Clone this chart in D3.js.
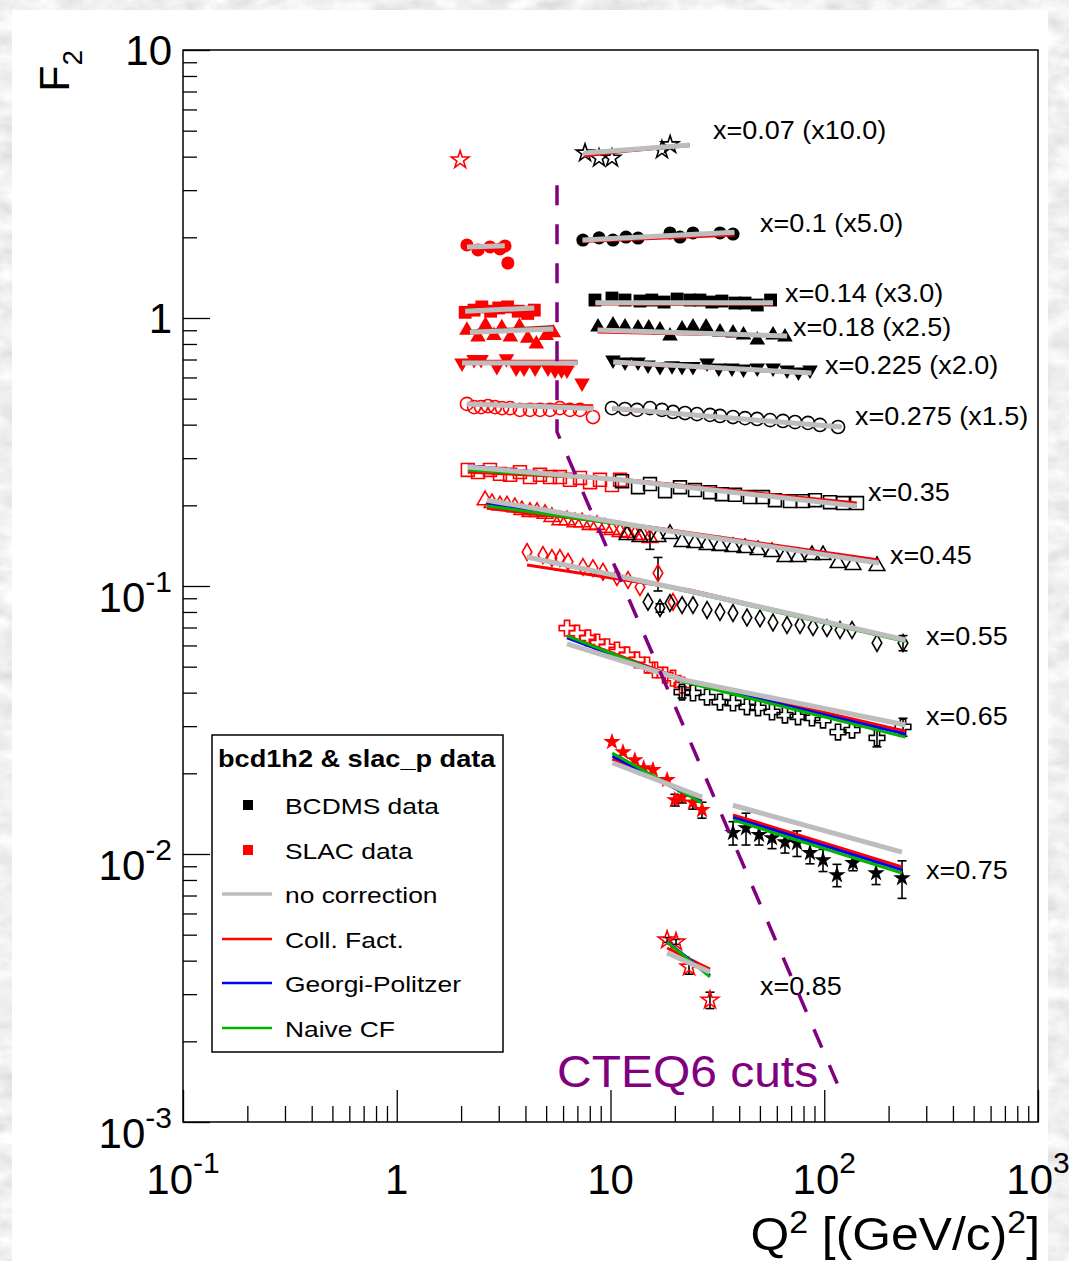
<!DOCTYPE html>
<html><head><meta charset="utf-8">
<script src="https://cdn.jsdelivr.net/npm/d3@7"></script>
<style>
html,body{margin:0;padding:0;background:#fff;}
svg{display:block;font-family:"Liberation Sans",Arial,Helvetica,sans-serif;}
</style></head><body>
<svg id="c" width="1069" height="1261"></svg>
<script>
// ---------------- DATA ----------------
const binLabel = ["x=0.07 (x10.0)","x=0.1 (x5.0)","x=0.14 (x3.0)","x=0.18 (x2.5)","x=0.225 (x2.0)","x=0.275 (x1.5)","x=0.35","x=0.45","x=0.55","x=0.65","x=0.75","x=0.85"];
const labelQ2 = [30.2, 50.0, 65.5, 71.4, 100.8, 139.3, 160.2, 203.1, 299.3, 299.3, 299.3, 50.0];
const labelF2 = [5.03, 2.26, 1.24, 0.926, 0.668, 0.431, 0.2242, 0.1305, 0.0651, 0.0327, 0.00872, 0.00322];

const slacQ2 = [
 [1.98],
 [2.13, 2.40, 2.73, 3.04, 3.21, 3.31],
 [2.09, 2.3, 2.5, 2.75, 3.0, 3.3, 3.7, 4.1, 4.4],
 [2.13, 2.4, 2.6, 2.85, 3.1, 3.4, 3.75, 4.1, 4.5, 5.0, 5.4],
 [2.02, 2.30, 2.48, 2.94, 3.26, 3.62, 3.94, 4.44, 5.1, 5.5, 5.9, 6.26, 7.36],
 [2.13, 2.30, 2.48, 2.67, 2.88, 3.11, 3.39, 3.77, 4.20, 4.68, 5.21, 5.80, 6.46, 7.20, 8.28],
 [2.15, 2.40, 2.73, 3.04, 3.39, 3.77, 4.20, 4.68, 5.21, 5.80, 6.46, 7.20, 8.02, 8.93, 10.16, 11.08],
 [2.59, 2.79, 3.04, 3.28, 3.57, 3.85, 4.20, 4.53, 4.94, 5.32, 5.80, 6.26, 6.82, 7.36, 8.02, 8.65, 9.42, 10.16, 11.08, 11.95, 13.02, 14.19, 15.3],
 [4.07, 4.83, 5.32, 5.80, 6.33, 7.43, 8.28, 9.22, 10.72, 12.08, 13.74, 16.68, 19.61],
 [6.26, 6.97, 7.85, 8.65, 9.63, 10.72, 11.95, 13.30, 14.82, 16.15, 18.0, 19.61, 21.61],
 [10.16, 11.44, 13.0, 14.3, 15.8, 18.4, 20.0, 21.6, 24.3, 26.8],
 [18.4, 20.25, 23.3, 29.2]
];
const slacF2 = [
 [3.89],
 [1.873, 1.794, 1.841, 1.810, 1.857, 1.604],
 [1.05, 1.07, 1.10, 1.06, 1.09, 1.10, 1.06, 1.04, 1.07],
 [0.90, 0.85, 0.94, 0.86, 0.92, 0.85, 0.93, 0.84, 0.80, 0.86, 0.88],
 [0.679, 0.700, 0.700, 0.659, 0.705, 0.651, 0.651, 0.651, 0.651, 0.640, 0.640, 0.640, 0.572],
 [0.478, 0.465, 0.465, 0.469, 0.465, 0.461, 0.461, 0.454, 0.454, 0.454, 0.454, 0.461, 0.454, 0.454, 0.427],
 [0.271, 0.266, 0.271, 0.262, 0.260, 0.266, 0.255, 0.260, 0.255, 0.255, 0.249, 0.253, 0.244, 0.249, 0.238, 0.249],
 [0.209, 0.204, 0.200, 0.200, 0.197, 0.192, 0.189, 0.189, 0.186, 0.181, 0.176, 0.176, 0.173, 0.173, 0.169, 0.169, 0.165, 0.162, 0.159, 0.158, 0.155, 0.155, 0.151],
 [0.1339, 0.1305, 0.1272, 0.1272, 0.1231, 0.1178, 0.1166, 0.1130, 0.1080, 0.1053, 0.0990, 0.1118, 0.0872],
 [0.0696, 0.0667, 0.0640, 0.0618, 0.0593, 0.0577, 0.0553, 0.0530, 0.0507, 0.0486, 0.0465, 0.0453, 0.0427],
 [0.0262, 0.0240, 0.0224, 0.0209, 0.0206, 0.0189, 0.0159, 0.0163, 0.0156, 0.0146],
 [0.00478, 0.00470, 0.00379, 0.00285]
];
const slacErr = [
 [], [], [], [], [], [], [],
 [0,0,0,0,0,0,0,0,0,0,0,0,0,0,0,0,0,0,0,0,0,0,0.014],
 [0,0,0,0,0,0,0,0,0,0,0,0.016,0],
 [],
 [0,0,0,0,0,0,0.0008,0.0008,0.0009,0.0010],
 [0.0001,0.0001,0.00023,0.0002]
];

const bcdmsQ2 = [
 [7.6, 8.84, 10.16, 17.4, 19.0],
 [7.43, 8.84, 10.27, 11.82, 13.45, 18.98, 21.14, 24.32, 32.53, 37.42],
 [8.46, 10.16, 11.69, 13.74, 15.6, 17.8, 20.5, 23.55, 26.2, 29.8, 33.2, 38.2, 42.6, 48.6, 56.1],
 [8.74, 10.27, 11.69, 13.45, 15.1, 17.04, 18.98, 21.61, 24.32, 28.0, 32.53, 37.42, 41.9, 48.6, 57.6, 65.5],
 [10.27, 11.69, 13.45, 14.98, 17.04, 19.4, 21.6, 24.3, 28.3, 32.1, 37.0, 41.9, 48.6, 57.6, 67.0, 75.7, 85.8],
 [10.16, 11.69, 13.30, 15.30, 17.41, 19.61, 22.32, 25.39, 29.22, 32.53, 37.42, 42.6, 48.5, 55.8, 64.1, 73.0, 83.9, 95.5, 116.0],
 [11.32, 13.45, 15.30, 17.99, 21.14, 24.85, 29.22, 33.2, 38.24, 44.9, 51.7, 58.8, 69.15, 79.5, 90.5, 106.4, 122.4, 142.3],
 [11.95, 13.74, 16.68, 18.98, 21.61, 24.85, 28.3, 32.53, 37.42, 42.6, 49.0, 56.97, 65.5, 75.4, 87.6, 98.7, 116.0, 136.3, 176.5],
 [14.98, 17.04, 18.98, 21.61, 24.32, 28.3, 32.53, 37.42, 43.5, 50.05, 57.58, 66.95, 77.0, 88.6, 103.0, 118.5, 134.9, 176.5, 233.6],
 [21.61, 24.32, 28.3, 32.53, 37.42, 43.5, 49.0, 56.97, 65.5, 75.4, 87.6, 98.7, 116.0, 134.9, 176.5, 233.6],
 [37.42, 43.05, 49.53, 56.97, 65.53, 74.58, 85.76, 98.67, 114.7, 136.3, 174.7, 231.1],
 []
];
const bcdmsF2 = [
 [4.13, 3.95, 3.95, 4.24, 4.43],
 [1.954, 1.990, 1.954, 2.005, 1.988, 2.076, 2.005, 2.076, 2.076, 2.057],
 [1.167, 1.187, 1.167, 1.157, 1.167, 1.147, 1.177, 1.167, 1.167, 1.147, 1.157, 1.137, 1.137, 1.118, 1.167],
 [0.926, 0.942, 0.926, 0.918, 0.918, 0.902, 0.857, 0.910, 0.926, 0.926, 0.887, 0.879, 0.864, 0.828, 0.864, 0.849],
 [0.697, 0.685, 0.685, 0.668, 0.659, 0.663, 0.659, 0.659, 0.679, 0.651, 0.651, 0.645, 0.651, 0.651, 0.640, 0.629, 0.640],
 [0.461, 0.4575, 0.454, 0.461, 0.454, 0.446, 0.442, 0.438, 0.435, 0.431, 0.427, 0.423, 0.420, 0.416, 0.413, 0.409, 0.406, 0.399, 0.392],
 [0.246, 0.2336, 0.2402, 0.2258, 0.2336, 0.228, 0.2238, 0.220, 0.219, 0.2147, 0.2147, 0.209, 0.2073, 0.2073, 0.209, 0.2055, 0.204, 0.204],
 [0.155, 0.1524, 0.1524, 0.1564, 0.146, 0.1447, 0.1422, 0.1411, 0.1398, 0.1386, 0.1362, 0.1339, 0.1283, 0.1283, 0.1305, 0.1305, 0.1218, 0.1198, 0.1188],
 [0.0872, 0.0828, 0.0864, 0.0849, 0.0849, 0.0814, 0.0800, 0.0793, 0.0763, 0.0757, 0.0731, 0.0715, 0.0715, 0.0702, 0.0696, 0.0685, 0.0685, 0.0613, 0.0613],
 [0.0402, 0.0399, 0.0385, 0.0369, 0.0366, 0.0354, 0.0351, 0.0339, 0.0330, 0.0325, 0.0322, 0.0316, 0.0285, 0.0290, 0.0271, 0.0298],
 [0.0120, 0.0125, 0.0118, 0.01147, 0.01108, 0.01099, 0.01009, 0.0095, 0.00835, 0.00926, 0.00849, 0.00813],
 []
];
const bcdmsErr = [
 [], [], [], [], [], [], [], [],
 [0,0.003,0,0,0,0,0,0,0,0,0,0,0,0,0,0,0,0,0.004],
 [0.002,0,0,0,0,0,0,0,0,0,0,0,0,0,0.002,0.0023],
 [0.0012,0.0017,0.0010,0.0010,0.0010,0.0012,0.0009,0.0009,0.0008,0.0006,0.0008,0.0013],
 []
];

// model curves: knots in Q2 (segments), F2 per model
const curveQ2 = [
 [[7.5, 12, 23.5]],
 [[2.13, 3.2], [7.4, 38]],
 [[2.09, 4.4], [8.5, 57.6]],
 [[2.2, 5.4], [8.7, 67]],
 [[2.02, 7.0], [10.3, 87]],
 [[2.13, 8.3], [10.2, 120]],
 [[2.15, 11, 142]],
 [[2.64, 15.3, 180]],
 [[4.07, 23.5, 240]],
 [[6.26, 22, 240]],
 [[10.2, 26.8], [37.4, 231]],
 [[18.4, 29.2]]
];
const noCorrection = [
 [[4.13, 4.24, 4.42]],
 [[1.84, 1.86], [1.954, 2.09]],
 [[1.06, 1.09], [1.14, 1.14]],
 [[0.885, 0.91], [0.902, 0.857]],
 [[0.679, 0.679], [0.685, 0.624]],
 [[0.478, 0.460], [0.461, 0.392]],
 [[0.278, 0.249, 0.199]],
 [[0.209, 0.1646, 0.1218]],
 [[0.1283, 0.0958, 0.0629]],
 [[0.0608, 0.0446, 0.0303]],
 [[0.0219, 0.0163], [0.0152, 0.01017]],
 [[0.00427, 0.00363]]
];
const collFact = [
 [[4.02, 4.20, 4.40]],
 [[1.83, 1.87], [1.93, 2.04]],
 [[1.08, 1.10], [1.127, 1.127]],
 [[0.89, 0.93], [0.887, 0.855]],
 [[0.69, 0.69], [0.68, 0.62]],
 [[0.478, 0.471], [0.458, 0.392]],
 [[0.266, 0.251, 0.204]],
 [[0.195, 0.166, 0.125]],
 [[0.1198, 0.0966, 0.0629]],
 [[0.0651, 0.0446, 0.0287]],
 [[0.0226, 0.0158], [0.0140, 0.00894]],
 [[0.00446, 0.00372]]
];
const georgiPolitzer = [
 [[4.10, 4.22, 4.40]],
 [[1.84, 1.86], [1.95, 2.07]],
 [[1.07, 1.09], [1.14, 1.14]],
 [[0.89, 0.92], [0.90, 0.857]],
 [[0.68, 0.68], [0.685, 0.624]],
 [[0.478, 0.462], [0.461, 0.392]],
 [[0.281, 0.249, 0.200]],
 [[0.204, 0.165, 0.123]],
 [[0.128, 0.0956, 0.0625]],
 [[0.0640, 0.0442, 0.0280]],
 [[0.0232, 0.0156], [0.0137, 0.00872]],
 [[0.00470, 0.00352]]
];
const naiveCF = [
 [[4.10, 4.22, 4.42]],
 [[1.84, 1.87], [1.95, 2.08]],
 [[1.07, 1.09], [1.14, 1.14]],
 [[0.89, 0.92], [0.90, 0.86]],
 [[0.68, 0.68], [0.685, 0.624]],
 [[0.476, 0.462], [0.461, 0.394]],
 [[0.271, 0.249, 0.199]],
 [[0.199, 0.164, 0.1218]],
 [[0.1283, 0.0950, 0.0620]],
 [[0.0651, 0.0439, 0.0273]],
 [[0.0238, 0.0155], [0.0134, 0.00849]],
 [[0.00469, 0.00348]]
];

const cutQ2 = [5.62, 5.62, 116];
const cutF2 = [3.13, 0.376, 0.00137];
const cutLabel = "CTEQ6 cuts";
const cutLabelQ2 = 5.62, cutLabelF2 = 0.00135;

const xTickVals = [0.1, 1, 10, 100, 1000];
const xTickText = [["10","-1"],["1",""],["10",""],["10","2"],["10","3"]];
const yTickVals = [10, 1, 0.1, 0.01, 0.001];
const yTickText = [["10",""],["1",""],["10","-1"],["10","-2"],["10","-3"]];

const legendTitle = "bcd1h2 & slac_p data";
const legendNames = ["BCDMS data","SLAC data","no correction","Coll. Fact.","Georgi-Politzer","Naive CF"];

// ---------------- STYLE ----------------
const markerType = ["star","circle","square","triangle","triangleDown","circle","square","triangle","diamond","cross","star","star"];
const markerOpen = [true,false,false,false,false,true,true,true,true,true,false,true];
const markerSize = {star:95, circle:135, square:165, triangle:105, triangleDown:105, diamond:80, cross:135};
const symType = {star:d3.symbolStar, circle:d3.symbolCircle, square:d3.symbolSquare, triangle:d3.symbolTriangle, triangleDown:d3.symbolTriangle, diamond:d3.symbolDiamond, cross:d3.symbolCross};
const colGray = "#bdbdbd", colRed = "#ff0000", colBlue = "#0000ff", colGreen = "#00b400", colPurple = "#800080";

// ---------------- CHART ----------------
const svg = d3.select("#c");
const W = 1069, H = 1261;
const x = d3.scaleLog().domain([0.1, 1000]).range([183, 1038]);
const y = d3.scaleLog().domain([0.001, 10]).range([1122, 50]);

const defs = svg.append("defs");
const f = defs.append("filter").attr("id","marble").attr("x",0).attr("y",0).attr("width",1).attr("height",1);
f.append("feTurbulence").attr("type","fractalNoise").attr("baseFrequency","0.035 0.06").attr("numOctaves",4).attr("seed",5).attr("result","n");
f.append("feColorMatrix").attr("in","n").attr("type","saturate").attr("values",0).attr("result","g");
const ct = f.append("feComponentTransfer").attr("in","g");
["feFuncR","feFuncG","feFuncB"].forEach(t=>ct.append(t).attr("type","linear").attr("slope",0.55).attr("intercept",0.6));
ct.append("feFuncA").attr("type","linear").attr("slope",0).attr("intercept",1);
defs.append("clipPath").attr("id","canvasClip").append("rect").attr("x",12).attr("y",10).attr("width",1036).attr("height",H-10);
defs.append("clipPath").attr("id","plotClip").append("rect").attr("x",183).attr("y",50).attr("width",855).attr("height",1072);

svg.append("rect").attr("width",W).attr("height",H).attr("fill","#ddd").attr("filter","url(#marble)");
svg.append("rect").attr("x",12).attr("y",10).attr("width",1036).attr("height",H-10).attr("fill","#fff");

const root = svg.append("g").attr("clip-path","url(#canvasClip)");
const overLayer = svg.append("g");

// axes ticks (inside, ROOT style)
const minorVals = (lo, hi) => { const r=[]; for (let d=lo; d<hi; d*=10) for (let k=2;k<=9;k++) r.push(+(k*d).toPrecision(3)); return r; };
function styleAxis(g){ g.select(".domain").remove(); g.selectAll("line").attr("stroke","#000").attr("stroke-width",1.3); g.selectAll("text").remove(); }
root.append("g").attr("transform","translate(0,1122)").call(d3.axisBottom(x).tickValues(xTickVals).tickSize(-32).tickFormat("")).call(styleAxis);
root.append("g").attr("transform","translate(0,1122)").call(d3.axisBottom(x).tickValues(minorVals(0.1,1000)).tickSize(-16).tickFormat("")).call(styleAxis);
root.append("g").attr("transform","translate(183,0)").call(d3.axisLeft(y).tickValues(yTickVals).tickSize(-27).tickFormat("")).call(styleAxis);
root.append("g").attr("transform","translate(183,0)").call(d3.axisLeft(y).tickValues(minorVals(0.001,10)).tickSize(-14).tickFormat("")).call(styleAxis);
root.append("rect").attr("x",183).attr("y",50).attr("width",855).attr("height",1072).attr("fill","none").attr("stroke","#000").attr("stroke-width",1.5);

// tick labels
xTickVals.forEach((v,i)=>{
  const t = overLayer.append("text").attr("x",x(v)).attr("y",1194).attr("text-anchor","middle").attr("font-size",42).attr("fill","#000");
  t.append("tspan").text(xTickText[i][0]);
  if (xTickText[i][1]) t.append("tspan").attr("font-size",30).attr("dy",-21).text(xTickText[i][1]);
});
yTickVals.forEach((v,i)=>{
  const sup = yTickText[i][1];
  const t = root.append("text").attr("x",172).attr("y",y(v)+(sup?26:15)).attr("text-anchor","end").attr("font-size",42).attr("fill","#000");
  t.append("tspan").text(yTickText[i][0]);
  if (sup) t.append("tspan").attr("font-size",30).attr("dy",-20).text(sup);
});

// axis titles
const xt = root.append("text").attr("transform","translate(1040,1250) scale(1.06,1)").attr("text-anchor","end").attr("font-size",47).attr("fill","#000");
xt.append("tspan").text("Q");
xt.append("tspan").attr("font-size",32).attr("dy",-17).text("2");
xt.append("tspan").attr("dy",17).text(" [(GeV/c)");
xt.append("tspan").attr("font-size",32).attr("dy",-17).text("2");
xt.append("tspan").attr("dy",17).text("]");
const yt = root.append("text").attr("transform","translate(69,50) rotate(-90)").attr("text-anchor","end").attr("font-size",43).attr("fill","#000");
yt.append("tspan").text("F");
yt.append("tspan").attr("font-size",28).attr("dy",13).text("2");

const plot = root.append("g").attr("clip-path","url(#plotClip)");

// data points with error bars
function drawSet(qs, fs, es, color, b){
  const type = markerType[b], open = markerOpen[b];
  const sym = d3.symbol().type(symType[type]).size(markerSize[type]);
  qs.forEach((q,i)=>{
    const e = (es && es[i]) || 0;
    const px = x(q), py = y(fs[i]);
    if (e > 0){
      const y1 = y(fs[i]+e), y2 = y(fs[i]-e);
      plot.append("line").attr("x1",px).attr("x2",px).attr("y1",y1).attr("y2",y2).attr("stroke","#000").attr("stroke-width",1.6);
      [y1,y2].forEach(yy=>plot.append("line").attr("x1",px-4.5).attr("x2",px+4.5).attr("y1",yy).attr("y2",yy).attr("stroke","#000").attr("stroke-width",1.6));
    }
    const p = plot.append("path").attr("d",sym())
      .attr("transform",`translate(${px},${py})${type==="triangleDown"?" rotate(180)":""}`);
    if (open) p.attr("fill","none").attr("stroke",color).attr("stroke-width",1.6);
    else p.attr("fill",color);
  });
}
for (let b=0;b<binLabel.length;b++){
  drawSet(slacQ2[b], slacF2[b], slacErr[b], colRed, b);
  drawSet(bcdmsQ2[b], bcdmsF2[b], bcdmsErr[b], "#000", b);
}

// model curves
const line = d3.line().x(d=>x(d[0])).y(d=>y(d[1]));
const models = [[collFact,colRed,3],[georgiPolitzer,colBlue,3],[naiveCF,colGreen,3],[noCorrection,colGray,5]];
models.forEach(([m,col,w])=>{
  for (let b=0;b<curveQ2.length;b++){
    curveQ2[b].forEach((seg,s)=>{
      const pts = seg.map((q,k)=>[q, m[b][s][k]]);
      plot.append("path").attr("d",line(pts)).attr("fill","none").attr("stroke",col).attr("stroke-width",w).attr("stroke-linecap","butt");
    });
  }
});

// bin labels
binLabel.forEach((t,i)=>{
  root.append("text").attr("transform",`translate(${x(labelQ2[i])},${y(labelF2[i])}) scale(1.08,1)`)
    .attr("dy","0.36em").attr("font-size",25).attr("fill","#000").text(t);
});

// CTEQ6 cut line
root.append("path").attr("d",line(cutQ2.map((q,i)=>[q,cutF2[i]])))
  .attr("fill","none").attr("stroke",colPurple).attr("stroke-width",3.5).attr("stroke-dasharray","20,19");
root.append("text").attr("transform",`translate(${x(cutLabelQ2)},${y(cutLabelF2)}) scale(1.09,1)`)
  .attr("font-size",44).attr("fill",colPurple).text(cutLabel);

// legend
const lg = root.append("g");
lg.append("rect").attr("x",212).attr("y",735).attr("width",291).attr("height",317).attr("fill","#fff").attr("stroke","#000").attr("stroke-width",1.5);
lg.append("text").attr("transform","translate(218,767) scale(1.18,1)").attr("font-size",23).attr("font-weight","bold").attr("fill","#000").text(legendTitle);
const rowY = [805, 850, 894, 939, 983, 1028];
legendNames.forEach((n,i)=>{
  const cy = rowY[i];
  if (i<2){
    lg.append("rect").attr("x",243).attr("y",cy-5).attr("width",10).attr("height",10).attr("fill", i===0?"#000":colRed);
  } else {
    const col = [colGray,colRed,colBlue,colGreen][i-2];
    lg.append("line").attr("x1",222).attr("x2",272).attr("y1",cy).attr("y2",cy).attr("stroke",col).attr("stroke-width",i===2?3.5:2.5);
  }
  lg.append("text").attr("transform",`translate(285,${cy+9}) scale(1.2,1)`).attr("font-size",22).attr("fill","#000").text(n);
});
</script>
</body></html>
